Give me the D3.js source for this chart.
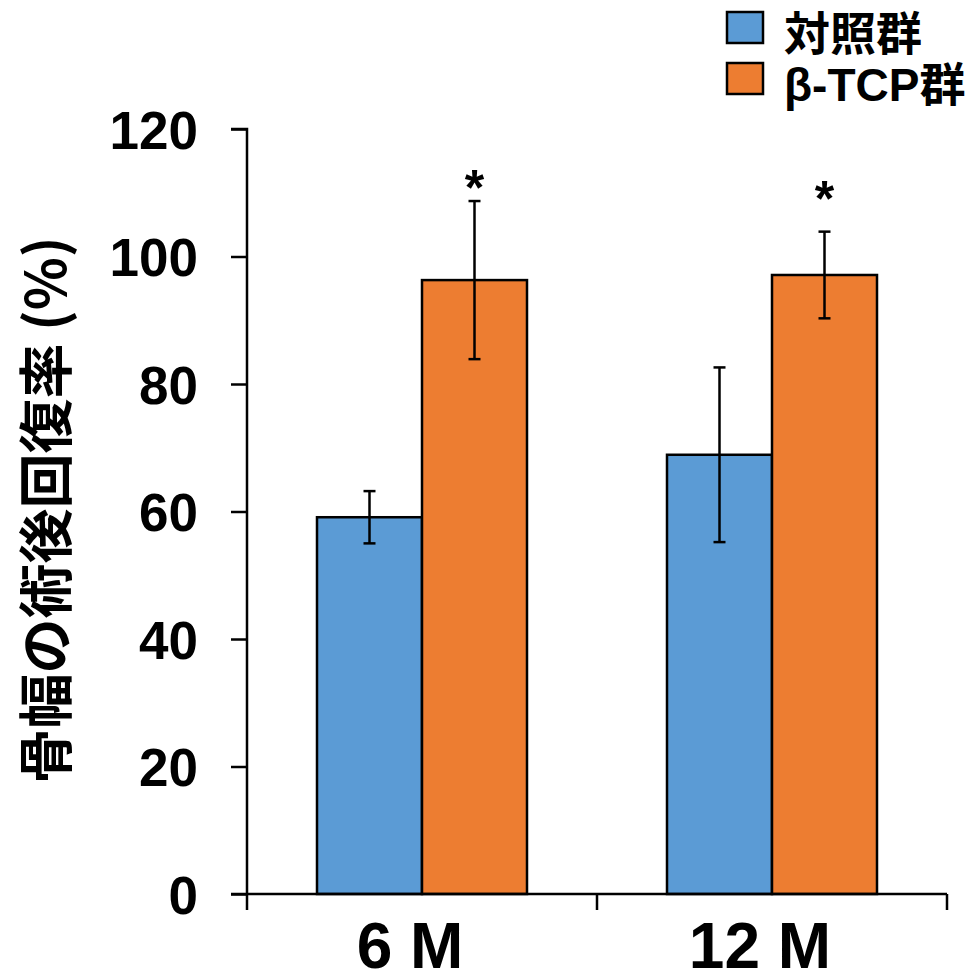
<!DOCTYPE html>
<html>
<head>
<meta charset="utf-8">
<script src="https://cdn.jsdelivr.net/npm/d3@7"></script>
<style>
  html, body { margin: 0; padding: 0; background: #fff; }
  svg { display: block; }
  .lat { font-family: "Liberation Sans", Arial, "Noto Sans CJK JP", sans-serif; font-weight: bold; }
  .cjk { font-family: "Noto Sans CJK JP", "Liberation Sans", sans-serif; font-weight: bold; }
</style>
</head>
<body>
<script>
// Time points and groups
const categories = ["6 M", "12 M"];
const groups = ["対照群", "β-TCP群"];
const groupColors = ["#5B9BD5", "#ED7D31"];

// Mean recovery rate (%) per time point, one array per group
const controlMeans = [59.1, 68.9];
const tcpMeans = [96.3, 97.1];
// Error bar half-lengths (SD)
const controlErr = [4.1, 13.7];
const tcpErr = [12.4, 6.8];

// Significance markers above the β-TCP bars (value = marker height on y scale)
const sigLabels = ["*", "*"];
const sigHeights = [112.1, 110.4];

const yTicks = [0, 20, 40, 60, 80, 100, 120];
const yTitle = "骨幅の術後回復率 (%)";

const W = 977, H = 975;
const svg = d3.select("body").append("svg").attr("width", W).attr("height", H);

const x0 = d3.scaleBand().domain(categories).range([247, 947]).paddingInner(0).paddingOuter(0);
const x1 = d3.scaleBand().domain(groups).range([70, 280]).padding(0);
const y = d3.scaleLinear().domain([0, 120]).range([894, 129]);

const series = [
  { group: groups[0], means: controlMeans, errs: controlErr, color: groupColors[0] },
  { group: groups[1], means: tcpMeans, errs: tcpErr, color: groupColors[1] }
];

const rows = [];
series.forEach(s => categories.forEach((c, i) => rows.push({ cat: c, group: s.group, v: s.means[i], e: s.errs[i], color: s.color })));

// Bars
svg.append("g").selectAll("rect").data(rows).join("rect")
  .attr("x", d => x0(d.cat) + x1(d.group))
  .attr("y", d => y(d.v))
  .attr("width", x1.bandwidth())
  .attr("height", d => y(0) - y(d.v))
  .attr("fill", d => d.color)
  .attr("stroke", "#000")
  .attr("stroke-width", 2.5);

// Error bars
const eb = svg.append("g").attr("stroke", "#000").attr("stroke-width", 2.5);
rows.forEach(d => {
  const cx = x0(d.cat) + x1(d.group) + x1.bandwidth() / 2;
  eb.append("line").attr("x1", cx).attr("x2", cx).attr("y1", y(d.v + d.e)).attr("y2", y(d.v - d.e));
  [d.v + d.e, d.v - d.e].forEach(v => {
    eb.append("line").attr("x1", cx - 6).attr("x2", cx + 6).attr("y1", y(v)).attr("y2", y(v));
  });
});

// Significance asterisks
svg.append("g").selectAll("text").data(categories).join("text")
  .attr("class", "lat")
  .attr("x", c => x0(c) + x1(groups[1]) + x1.bandwidth() / 2)
  .attr("y", (c, i) => y(sigHeights[i]) + 26)
  .attr("text-anchor", "middle")
  .attr("font-size", 50)
  .text((c, i) => sigLabels[i]);

// Y axis
const yAxis = svg.append("g").attr("transform", "translate(247,0)")
  .call(d3.axisLeft(y).tickValues(yTicks).tickSize(16).tickPadding(33).tickFormat(d3.format("d")));
yAxis.select(".domain").attr("stroke-width", 2.5).attr("d", `M-16,${y(120)}H0V${y(0)}`);
yAxis.selectAll(".tick line").attr("stroke-width", 2.5);
yAxis.selectAll(".tick text").attr("class", "lat").attr("font-size", 53).attr("fill", "#000").attr("dy", "0.36em");

// X axis
const xAxis = svg.append("g").attr("transform", `translate(0,${y(0)})`)
  .call(d3.axisBottom(x0).tickSize(0).tickPadding(29));
xAxis.select(".domain").attr("stroke-width", 2.5).attr("d", `M231,0H947`);
xAxis.selectAll(".tick text").attr("class", "lat").attr("font-size", 64).attr("fill", "#000")
  .attr("dy", "0.71em").attr("dx", -12);
// Category boundary ticks
const bounds = categories.map(c => x0(c)).concat([x0(categories[categories.length - 1]) + x0.bandwidth()]);
xAxis.append("g").selectAll("line").data(bounds).join("line")
  .attr("x1", d => d).attr("x2", d => d).attr("y1", 0).attr("y2", 16)
  .attr("stroke", "#000").attr("stroke-width", 2.5);

// Y axis title
svg.append("text")
  .attr("class", "cjk")
  .attr("transform", "translate(42,510) rotate(-90)")
  .attr("text-anchor", "middle")
  .attr("dominant-baseline", "central")
  .attr("font-size", 55)
  .attr("fill", "#000")
  .text(yTitle);

// Legend
const legend = svg.append("g");
groups.forEach((g, i) => {
  const top = 12 + i * 51;
  legend.append("rect").attr("x", 727).attr("y", top).attr("width", 36).attr("height", 31)
    .attr("fill", groupColors[i]).attr("stroke", "#000").attr("stroke-width", 2.5);
  legend.append("text").attr("class", "lat")
    .attr("x", 784).attr("y", top + 22).attr("dominant-baseline", "central")
    .attr("font-size", 46).attr("fill", "#000").text(g);
});
</script>
</body>
</html>
